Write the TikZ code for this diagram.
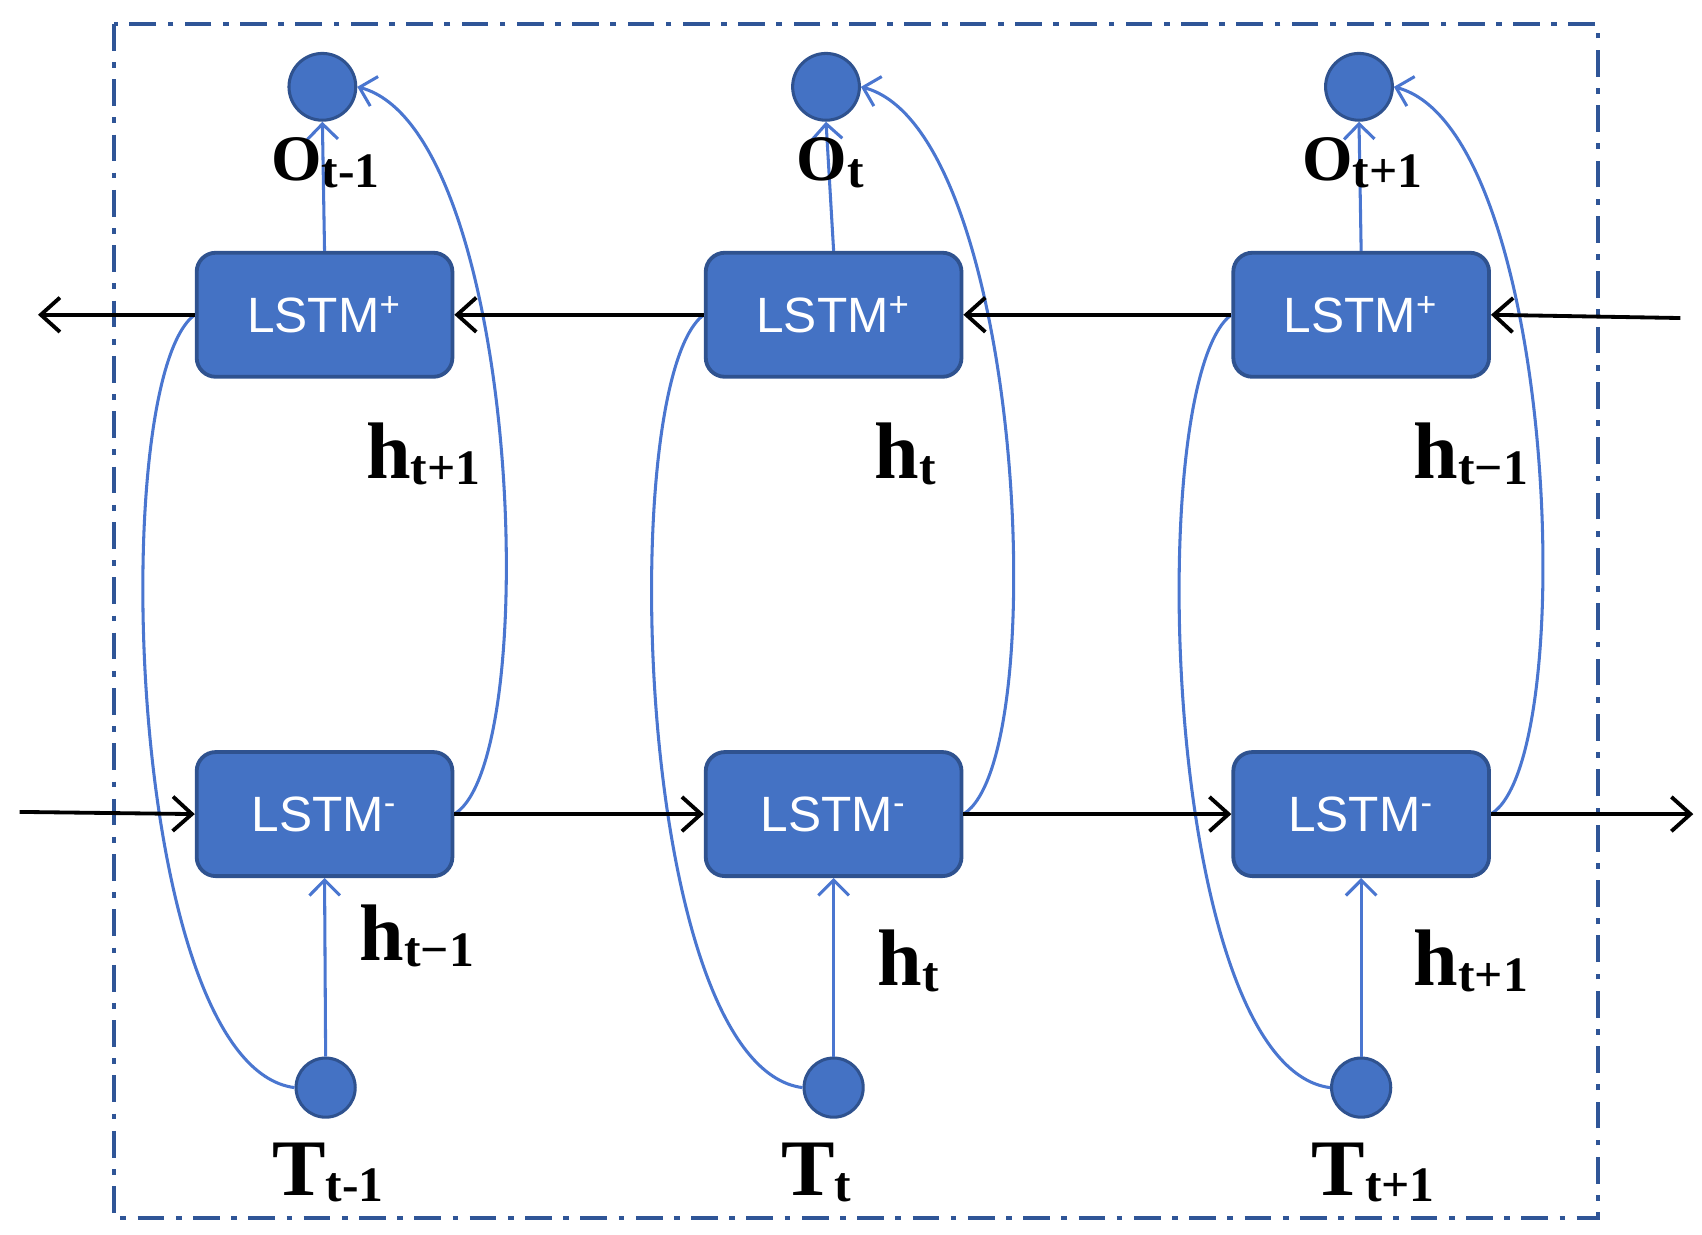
\documentclass[tikz,border=0pt]{standalone}
\usepackage{fontspec}
\setmainfont{Liberation Serif}
\newfontfamily\lsans{Liberation Sans}
\usetikzlibrary{arrows.meta,calc}
\definecolor{fillb}{HTML}{4472C4}
\definecolor{edgeb}{HTML}{2F528F}
\definecolor{lineb}{HTML}{4A76D0}
\definecolor{frameb}{HTML}{2F5597}
\newcommand{\lab}[3]{{\fontsize{#1}{#1}\selectfont\bfseries #2}\raisebox{-0.35ex}{\fontsize{13}{13}\selectfont\bfseries #3}}
\begin{document}
\begin{tikzpicture}[x=0.01cm,y=-0.01cm,
  box/.style={draw=edgeb,line width=1pt,fill=fillb,rounded corners=5pt,minimum width=67pt,minimum height=32.5pt,inner sep=0pt,text=white,font=\lsans\fontsize{13}{13}\selectfont},
  circ/.style={circle,draw=edgeb,line width=0.8pt,fill=fillb,inner sep=0pt,minimum size=#1},
  blk/.style={black,line width=1pt,-{Straight Barb[length=5pt,width=9pt]}},
  blu/.style={lineb,line width=0.8pt},
  bluar/.style={blu,-{Straight Barb[length=4pt,width=8pt]}},
  lbl/.style={inner sep=0pt}]
\useasboundingbox (0,0) rectangle (1568,1137);
\draw[frameb,line width=1pt,dash pattern=on 7pt off 3pt on 1.5pt off 3pt] (105,22) rectangle (1472,1122);
\foreach \i/\x/\ox/\tx in {1/299/297/300,2/768/761/768,3/1254/1252/1254}{
  \node[box] (P\i) at (\x,290) {LSTM\textsuperscript{+}};
  \node[box] (M\i) at (\x,750) {LSTM\textsuperscript{-}};
  \node[circ=17.5pt] (O\i) at (\ox,80) {};
  \node[circ=15.5pt] (T\i) at (\tx,1002) {};
  \draw[bluar] (P\i.north) -- (O\i.south);
  \draw[bluar] (T\i.north) -- (M\i.south);
  \draw[blu] (T\i.west) .. controls ($(T\i.west)+(-155,-20)$) and ($(P\i.west)+(-82,60)$) .. (P\i.west);
  \draw[bluar] (M\i.east) .. controls ($(M\i.east)+(83,-50)$) and ($(O\i.east)+(150,40)$) .. (O\i.east);
}
\coordinate (rin) at (1548,293);
\coordinate (lout) at (35,290);
\coordinate (lin) at (18,748);
\coordinate (rout) at (1560,750);
\draw[blk] (rin) -- (P3.east);
\draw[blk] (P3.west) -- (P2.east);
\draw[blk] (P2.west) -- (P1.east);
\draw[blk] (P1.west) -- (lout);
\draw[blk] (lin) -- (M1.west);
\draw[blk] (M1.east) -- (M2.west);
\draw[blk] (M2.east) -- (M3.west);
\draw[blk] (M3.east) -- (rout);
\node[lbl] (lo1) at (300,150) {\lab{17}{O}{t-1}};
\node[lbl] (lo2) at (765,150) {\lab{17}{O}{t}};
\node[lbl] (lo3) at (1255,150) {\lab{17}{O}{t+1}};
\node[lbl] (lh1) at (390,418) {\lab{21}{h}{t+1}};
\node[lbl] (lh2) at (834,418) {\lab{21}{h}{t}};
\node[lbl] (lh3) at (1355,418) {\lab{21}{h}{t−1}};
\node[lbl] (lh4) at (384,862) {\lab{21}{h}{t−1}};
\node[lbl] (lh5) at (837,885) {\lab{21}{h}{t}};
\node[lbl] (lh6) at (1355,885) {\lab{21}{h}{t+1}};
\node[lbl] (lt1) at (302,1080) {\lab{21}{T}{t-1}};
\node[lbl] (lt2) at (752,1080) {\lab{21}{T}{t}};
\node[lbl] (lt3) at (1265,1080) {\lab{21}{T}{t+1}};
\end{tikzpicture}
\end{document}
